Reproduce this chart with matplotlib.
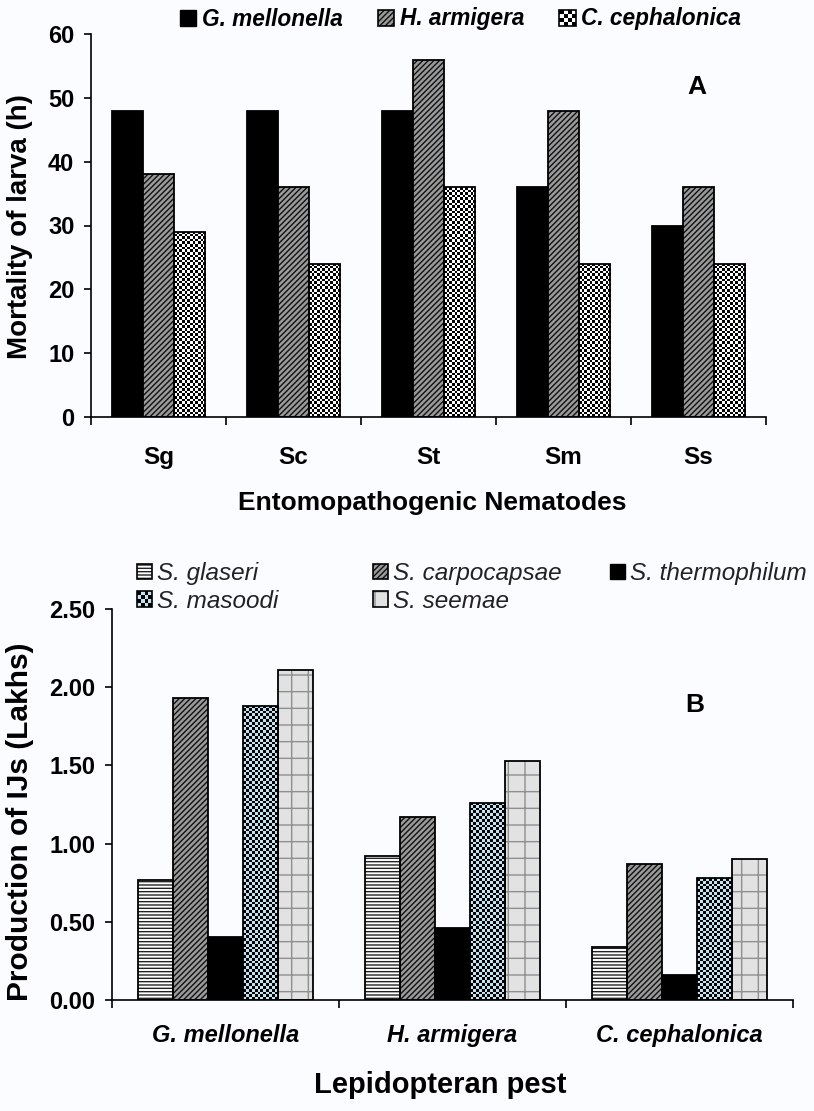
import matplotlib
matplotlib.use('Agg')
import matplotlib.pyplot as plt
import numpy as np
from matplotlib.patches import Rectangle
from matplotlib.legend_handler import HandlerBase
from matplotlib.colors import ListedColormap

plt.rcParams['font.family'] = ['Liberation Sans', 'DejaVu Sans']
plt.rcParams['hatch.linewidth'] = 1.0

# panel A: mortality time (h)
nematodes = ['Sg', 'Sc', 'St', 'Sm', 'Ss']
hosts = ['G. mellonella', 'H. armigera', 'C. cephalonica']
mort_gm = [48, 48, 48, 36, 30]
mort_ha = [38, 36, 56, 48, 36]
mort_cc = [29, 24, 36, 24, 24]

# panel B: IJ production (lakhs)
species = ['S. glaseri', 'S. carpocapsae', 'S. thermophilum', 'S. masoodi', 'S. seemae']
ij_glaseri = [0.77, 0.92, 0.34]
ij_carpocapsae = [1.93, 1.17, 0.87]
ij_thermophilum = [0.40, 0.46, 0.16]
ij_masoodi = [1.88, 1.26, 0.78]
ij_seemae = [2.11, 1.53, 0.90]

W, H = 814, 1111
fig = plt.figure(figsize=(W / 100, H / 100), dpi=100, facecolor='#fafcff')

LIGHT_BLUE = '#bfe4f3'


class CheckerHandler(HandlerBase):
    def __init__(self, light, n=4):
        super().__init__()
        self.light = light
        self.n = n

    def create_artists(self, legend, orig_handle, xdescent, ydescent,
                       width, height, fontsize, trans):
        arts = []
        cw, ch = width / self.n, height / self.n
        for i in range(self.n):
            for j in range(self.n):
                c = 'black' if (i + j) % 2 else self.light
                arts.append(Rectangle((-xdescent + i * cw, -ydescent + j * ch), cw, ch,
                                      facecolor=c, edgecolor='none', transform=trans))
        arts.append(Rectangle((-xdescent, -ydescent), width, height, fill=False,
                              edgecolor='black', lw=1.2, transform=trans))
        return arts


def hatched_bars(ax, x, vals, width, face, hatch, hcolor):
    ax.bar(x, vals, width, color=face, edgecolor=hcolor, linewidth=0, hatch=hatch, zorder=2)
    ax.bar(x, vals, width, fill=False, edgecolor='black', linewidth=1.3, zorder=3)
    h1 = Rectangle((0, 0), 1, 1, facecolor=face, edgecolor=hcolor, linewidth=0, hatch=hatch)
    h2 = Rectangle((0, 0), 1, 1, fill=False, edgecolor='black', linewidth=1.2)
    return (h1, h2)


def checker_bars(ax, x, vals, width, light, cell_px):
    bars = ax.bar(x, vals, width, color=light, edgecolor='none', linewidth=0, zorder=2)
    ax.bar(x, vals, width, fill=False, edgecolor='black', linewidth=1.3, zorder=3)
    cmap = ListedColormap([light, 'black'])
    for b in bars:
        x0, w, h = b.get_x(), b.get_width(), b.get_height()
        p0 = ax.transData.transform((x0, 0))
        p1 = ax.transData.transform((x0 + w, h))
        nc = max(1, int(round((p1[0] - p0[0]) / cell_px)))
        nr = max(1, int(round((p1[1] - p0[1]) / cell_px)))
        grid = np.indices((nr, nc)).sum(axis=0) % 2
        im = ax.imshow(grid, extent=(x0, x0 + w, 0, h), cmap=cmap, vmin=0, vmax=1,
                       interpolation='nearest', aspect='auto', origin='lower', zorder=2.5)
        im.set_clip_path(b)
    return Rectangle((0, 0), 1, 1)


def style_axes(ax, ncat, ylim, yticks, fmt, ysize):
    ax.set_xlim(-0.5, ncat - 0.5)
    ax.set_ylim(*ylim)
    ax.set_facecolor('none')
    for s in ['top', 'right']:
        ax.spines[s].set_visible(False)
    for s in ['left', 'bottom']:
        ax.spines[s].set_linewidth(1.2)
    ax.set_yticks(yticks)
    ax.set_yticklabels([fmt.format(v) for v in yticks], fontsize=ysize, fontweight='bold')
    ax.tick_params(axis='y', length=5, width=1.2, pad=7)
    ax.set_xticks(np.arange(ncat + 1) - 0.5, minor=True)
    ax.tick_params(axis='x', which='minor', length=6, width=1.2, direction='out')


# ---------- Panel A ----------
ax1 = fig.add_axes([91 / W, 1 - 417 / H, 675 / W, 383 / H])
style_axes(ax1, len(nematodes), (0, 60), np.arange(0, 61, 10), '{:.0f}', 17)
x1 = np.arange(len(nematodes))
bw1 = 0.23
ax1.bar(x1 - bw1, mort_gm, bw1, color='black', edgecolor='black', linewidth=1.3, zorder=2)
hA_gm = Rectangle((0, 0), 1, 1, facecolor='black', edgecolor='black')
hA_ha = hatched_bars(ax1, x1, mort_ha, bw1, '#9a9a9a', '//////', '#111111')
hA_cc = checker_bars(ax1, x1 + bw1, mort_cc, bw1, 'white', 2.6)
ax1.set_xlim(-0.5, len(nematodes) - 0.5)
ax1.set_ylim(0, 60)
ax1.set_xticks(x1)
ax1.set_xticklabels(nematodes, fontsize=17.5, fontweight='bold')
ax1.tick_params(axis='x', which='major', length=0, pad=21)
ax1.text((697 - 91) / 675, 1 - (87 - 34) / 383, 'A', transform=ax1.transAxes,
         fontsize=19, fontweight='bold', ha='center', va='center')

leg1 = fig.legend([hA_gm, hA_ha, hA_cc], hosts, ncol=3, loc='center left',
                  bbox_to_anchor=(180 / W, 1 - 19 / H), frameon=False,
                  prop={'size': 16.3, 'weight': 'bold', 'style': 'italic'},
                  handlelength=0.72, handleheight=0.72, handletextpad=0.25,
                  columnspacing=1.55, borderpad=0, borderaxespad=0,
                  handler_map={hA_cc: CheckerHandler('white')})

fig.text(432 / W, 1 - 503 / H, 'Entomopathogenic Nematodes', fontsize=19,
         fontweight='bold', ha='center', va='center')
fig.text(20 / W, 1 - 227 / H, 'Mortality of larva (h)', fontsize=20,
         fontweight='bold', ha='center', va='center', rotation=90)

# ---------- Panel B ----------
ax2 = fig.add_axes([112 / W, 1 - 1000 / H, 681 / W, 391 / H])
style_axes(ax2, len(hosts), (0, 2.5), np.arange(0, 2.51, 0.5), '{:.2f}', 17)
x2 = np.arange(len(hosts))
bw2 = 0.154
hB_gl = hatched_bars(ax2, x2 - 2 * bw2, ij_glaseri, bw2, 'white', '-----', '#222222')
hB_ca = hatched_bars(ax2, x2 - bw2, ij_carpocapsae, bw2, '#9a9a9a', '//////', '#111111')
ax2.bar(x2, ij_thermophilum, bw2, color='black', edgecolor='black', linewidth=1.3, zorder=2)
hB_th = Rectangle((0, 0), 1, 1, facecolor='black', edgecolor='black')
hB_ma = checker_bars(ax2, x2 + bw2, ij_masoodi, bw2, LIGHT_BLUE, 2.8)
hB_se = hatched_bars(ax2, x2 + 2 * bw2, ij_seemae, bw2, '#e2e2e2', '+', '#8f8f8f')
ax2.set_xlim(-0.5, len(hosts) - 0.5)
ax2.set_ylim(0, 2.5)
ax2.set_xticks(x2)
ax2.set_xticklabels(hosts, fontsize=17, fontweight='bold', style='italic')
ax2.tick_params(axis='x', which='major', length=0, pad=17)
ax2.text((695 - 112) / 681, 1 - (705 - 609) / 391, 'B', transform=ax2.transAxes,
         fontsize=19, fontweight='bold', ha='center', va='center')

# three single-column legends so each column sits where it does in the figure
leg_cols = [([hB_gl, hB_ma], [species[0], species[3]], 137),
            ([hB_ca, hB_se], [species[1], species[4]], 373),
            ([hB_th], [species[2]], 610)]
for hs, labs, xpx in leg_cols:
    lg = fig.legend(hs, labs, ncol=1, loc='upper left',
                    bbox_to_anchor=(xpx / W, 1 - 562 / H), frameon=False,
                    prop={'size': 17.5, 'style': 'italic'},
                    handlelength=0.62, handleheight=0.62, handletextpad=0.2,
                    labelspacing=0.2, borderpad=0, borderaxespad=0,
                    handler_map={hB_ma: CheckerHandler(LIGHT_BLUE)})
    for t in lg.get_texts():
        t.set_color('#222222')

fig.text(440 / W, 1 - 1085 / H, 'Lepidopteran pest', fontsize=21,
         fontweight='bold', ha='center', va='center')
fig.text(20 / W, 1 - 822 / H, 'Production of IJs (Lakhs)', fontsize=21.5,
         fontweight='bold', ha='center', va='center', rotation=90)

plt.savefig('out.png', dpi=100, facecolor=fig.get_facecolor())
